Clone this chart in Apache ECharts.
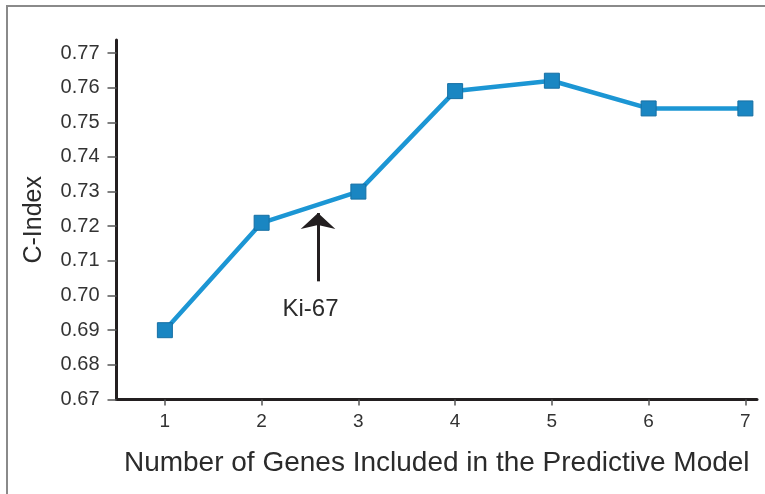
<!DOCTYPE html>
<html>
<head>
<meta charset="utf-8">
<script src="https://cdn.jsdelivr.net/npm/echarts@6/dist/echarts.min.js"></script>
<style>
  html, body { margin: 0; padding: 0; background: #fff; }
  #chart { width: 765px; height: 494px; }
</style>
</head>
<body>
<div id="chart"></div>
<script>
// Number of genes in the model and the resulting concordance index
const geneCounts = [1, 2, 3, 4, 5, 6, 7];
const cIndex = [0.690, 0.721, 0.730, 0.759, 0.762, 0.754, 0.754];
const yTicks = [0.67, 0.68, 0.69, 0.70, 0.71, 0.72, 0.73, 0.74, 0.75, 0.76, 0.77];

// Ki-67 annotation: arrow from (x, yStart) up to (x, yEnd), label below it
const kiArrow = { x: 2.583, yStart: 0.7041, yEnd: 0.7238 };
const kiLabel = { text: 'Ki-67', x: 2.505, y: 0.6961 };

const FONT = '"Liberation Sans", Arial, Helvetica, sans-serif';
const AXIS_DARK = '#231f20';

const chart = echarts.init(document.getElementById('chart'), null, { renderer: 'canvas' });

chart.setOption({
  animation: false,
  backgroundColor: '#ffffff',
  grid: {
    left: 116.5, top: 40, right: 8, bottom: 94.5,
    outerBoundsMode: 'none'
  },
  xAxis: {
    type: 'value',
    min: 0.5,
    max: 7.12,
    name: 'Number of Genes Included in the Predictive Model',
    nameLocation: 'middle',
    nameGap: 50,
    nameTextStyle: { fontFamily: FONT, fontSize: 28, color: '#2b2b2b' },
    axisLine: { show: true, onZero: false, lineStyle: { color: AXIS_DARK, width: 3 } },
    axisTick: { show: true, length: 6, customValues: geneCounts, lineStyle: { color: '#555', width: 1.5 } },
    axisLabel: {
      customValues: geneCounts,
      margin: 13,
      fontFamily: FONT, fontSize: 19, color: '#333'
    },
    splitLine: { show: false }
  },
  yAxis: {
    type: 'value',
    min: 0.67,
    max: 0.77375,
    name: 'C-Index',
    nameLocation: 'middle',
    nameGap: 70,
    nameTextStyle: { fontFamily: FONT, fontSize: 25, color: '#2b2b2b' },
    axisLine: { show: true, onZero: false, lineStyle: { color: AXIS_DARK, width: 3 } },
    axisTick: { show: true, length: 9, customValues: yTicks, lineStyle: { color: '#555', width: 1.5 } },
    axisLabel: {
      customValues: yTicks,
      margin: 17,
      formatter: v => v.toFixed(2),
      fontFamily: FONT, fontSize: 20, color: '#333'
    },
    splitLine: { show: false }
  },
  series: [
    {
      type: 'line',
      data: geneCounts.map((g, i) => [g, cIndex[i]]),
      symbol: 'rect',
      symbolSize: 15,
      showAllSymbol: true,
      lineStyle: { color: '#1c96d4', width: 4.5 },
      itemStyle: { color: '#1a86c2', borderColor: '#166fa3', borderWidth: 1 },
      z: 3,
      markLine: {
        silent: true,
        symbol: ['none', 'arrow'],
        symbolSize: [26, 16],
        label: { show: false },
        lineStyle: { color: AXIS_DARK, width: 3, type: 'solid' },
        data: [[
          { coord: [kiArrow.x, kiArrow.yStart] },
          { coord: [kiArrow.x, kiArrow.yEnd] }
        ]]
      },
      markPoint: {
        silent: true,
        symbol: 'circle',
        symbolSize: 0,
        label: {
          show: true,
          position: 'inside',
          formatter: kiLabel.text,
          fontFamily: FONT, fontSize: 24, color: '#2b2b2b'
        },
        data: [{ coord: [kiLabel.x, kiLabel.y] }]
      }
    }
  ],
  graphic: [
    {
      type: 'rect',
      silent: true,
      shape: { x: 7, y: 6, width: 900, height: 700 },
      style: { fill: 'none', stroke: '#8a8a8a', lineWidth: 2 }
    }
  ]
});
</script>
</body>
</html>
